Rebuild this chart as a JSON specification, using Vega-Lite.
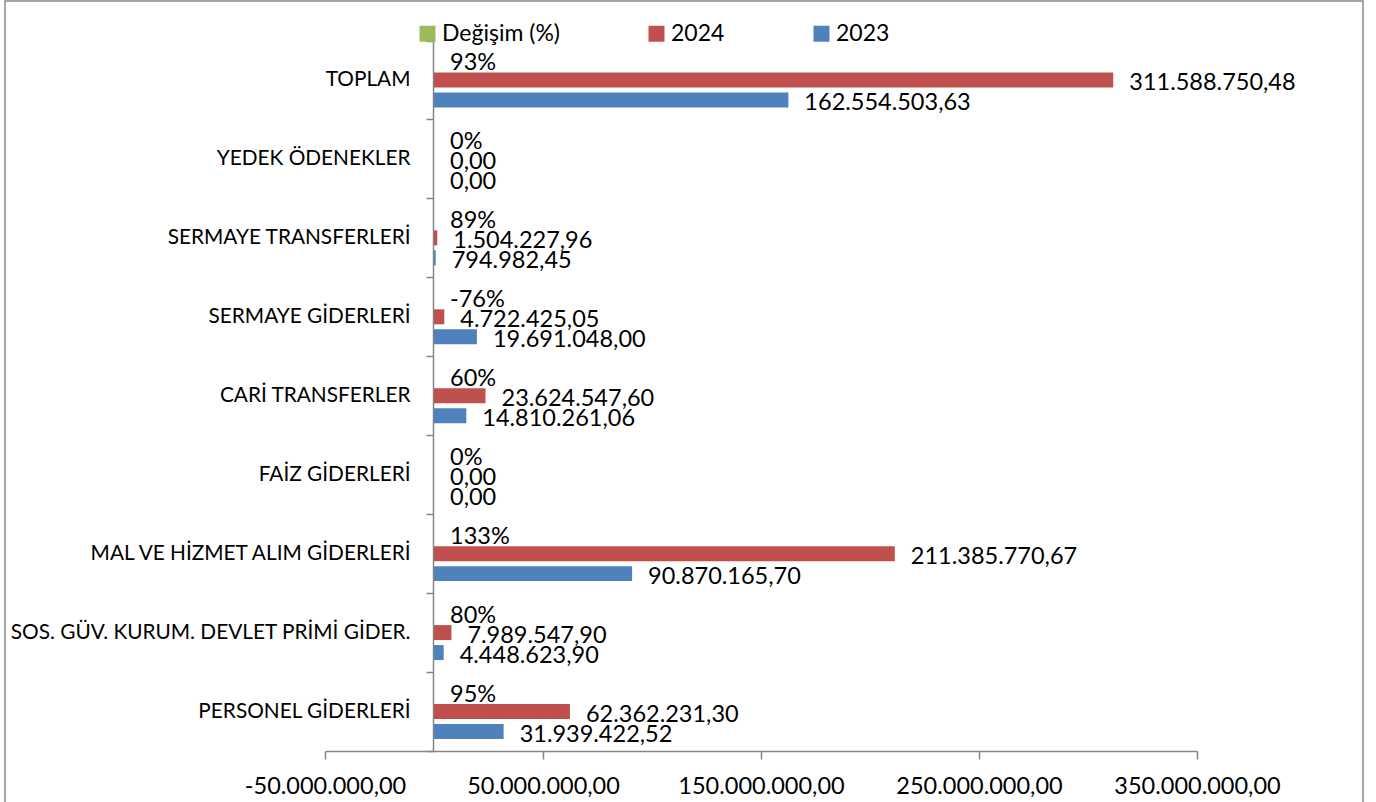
{
  "$schema": "https://vega.github.io/schema/vega-lite/v6.json",
  "width": 1358,
  "height": 820,
  "autosize": {"type": "none"},
  "padding": {"left": 5, "top": 1, "right": 13, "bottom": -19},
  "background": "white",
  "config": {
    "font": "Lato",
    "locale": {
      "number": {"decimal": ",", "thousands": ".", "grouping": [3], "currency": ["", ""], "minus": "-", "percent": "%"}
    },
    "view": {"stroke": "#898989", "strokeWidth": 1.5}
  },
  "data": {
    "values": [
      {"kalem": "TOPLAM", "seri": "Değişim (%)", "deger": 0.93},
      {"kalem": "TOPLAM", "seri": "2024", "deger": 311588750.48},
      {"kalem": "TOPLAM", "seri": "2023", "deger": 162554503.63},
      {"kalem": "YEDEK ÖDENEKLER", "seri": "Değişim (%)", "deger": 0},
      {"kalem": "YEDEK ÖDENEKLER", "seri": "2024", "deger": 0},
      {"kalem": "YEDEK ÖDENEKLER", "seri": "2023", "deger": 0},
      {"kalem": "SERMAYE TRANSFERLERİ", "seri": "Değişim (%)", "deger": 0.89},
      {"kalem": "SERMAYE TRANSFERLERİ", "seri": "2024", "deger": 1504227.96},
      {"kalem": "SERMAYE TRANSFERLERİ", "seri": "2023", "deger": 794982.45},
      {"kalem": "SERMAYE GİDERLERİ", "seri": "Değişim (%)", "deger": -0.76},
      {"kalem": "SERMAYE GİDERLERİ", "seri": "2024", "deger": 4722425.05},
      {"kalem": "SERMAYE GİDERLERİ", "seri": "2023", "deger": 19691048.00},
      {"kalem": "CARİ TRANSFERLER", "seri": "Değişim (%)", "deger": 0.60},
      {"kalem": "CARİ TRANSFERLER", "seri": "2024", "deger": 23624547.60},
      {"kalem": "CARİ TRANSFERLER", "seri": "2023", "deger": 14810261.06},
      {"kalem": "FAİZ  GİDERLERİ", "seri": "Değişim (%)", "deger": 0},
      {"kalem": "FAİZ  GİDERLERİ", "seri": "2024", "deger": 0},
      {"kalem": "FAİZ  GİDERLERİ", "seri": "2023", "deger": 0},
      {"kalem": "MAL VE HİZMET ALIM GİDERLERİ", "seri": "Değişim (%)", "deger": 1.33},
      {"kalem": "MAL VE HİZMET ALIM GİDERLERİ", "seri": "2024", "deger": 211385770.67},
      {"kalem": "MAL VE HİZMET ALIM GİDERLERİ", "seri": "2023", "deger": 90870165.70},
      {"kalem": "SOS. GÜV. KURUM. DEVLET PRİMİ GİDER.", "seri": "Değişim (%)", "deger": 0.80},
      {"kalem": "SOS. GÜV. KURUM. DEVLET PRİMİ GİDER.", "seri": "2024", "deger": 7989547.90},
      {"kalem": "SOS. GÜV. KURUM. DEVLET PRİMİ GİDER.", "seri": "2023", "deger": 4448623.90},
      {"kalem": "PERSONEL GİDERLERİ", "seri": "Değişim (%)", "deger": 0.95},
      {"kalem": "PERSONEL GİDERLERİ", "seri": "2024", "deger": 62362231.30},
      {"kalem": "PERSONEL GİDERLERİ", "seri": "2023", "deger": 31939422.52}
    ]
  },
  "encoding": {
    "y": {
      "field": "kalem",
      "type": "nominal",
      "sort": ["TOPLAM", "YEDEK ÖDENEKLER", "SERMAYE TRANSFERLERİ", "SERMAYE GİDERLERİ", "CARİ TRANSFERLER", "FAİZ  GİDERLERİ", "MAL VE HİZMET ALIM GİDERLERİ", "SOS. GÜV. KURUM. DEVLET PRİMİ GİDER.", "PERSONEL GİDERLERİ"],
      "scale": {"range": [39.5, 750], "paddingInner": 0, "paddingOuter": 0},
      "axis": {
        "title": null,
        "orient": "left",
        "offset": -428,
        "tickBand": "extent",
        "tickSize": 7,
        "tickColor": "#868686",
        "tickWidth": 1.5,
        "domainColor": "#868686",
        "domainWidth": 1.5,
        "labelFont": "Lato",
        "labelFontSize": 20.8,
        "labelColor": "#000000",
        "labelPadding": 16,
        "labelLimit": 600
      }
    },
    "yOffset": {
      "field": "seri",
      "type": "nominal",
      "sort": ["Değişim (%)", "2024", "2023"],
      "scale": {"paddingInner": 0.25, "paddingOuter": 0.6}
    },
    "x": {
      "field": "deger",
      "type": "quantitative",
      "scale": {"domain": [-50000000, 350000000], "range": [320, 1192], "nice": false, "zero": false},
      "axis": {
        "title": null,
        "orient": "bottom",
        "offset": -70,
        "values": [-50000000, 50000000, 150000000, 250000000, 350000000],
        "format": ",.2f",
        "grid": false,
        "tickSize": 8,
        "tickColor": "#868686",
        "tickWidth": 1.5,
        "domainColor": "#868686",
        "domainWidth": 1.5,
        "labelFont": "Lato",
        "labelFontSize": 23.5,
        "labelColor": "#000000",
        "labelPadding": 15,
        "labelOverlap": false,
        "labelFlush": false
      }
    }
  },
  "layer": [
    {
      "mark": {"type": "bar"},
      "encoding": {
        "color": {
          "field": "seri",
          "type": "nominal",
          "scale": {"domain": ["Değişim (%)", "2024", "2023"], "range": ["#9BBB59", "#C0504D", "#4F81BD"]},
          "legend": {
            "title": null,
            "orient": "none",
            "legendX": 411,
            "legendY": 21,
            "direction": "horizontal",
            "padding": 0,
            "symbolType": "square",
            "symbolSize": 256,
            "symbolStrokeWidth": 0,
            "symbolOpacity": 1,
            "labelFont": "Lato",
            "labelFontSize": 23,
            "labelColor": "#000000",
            "labelOffset": 3,
            "columnPadding": 85,
            "labelLimit": 300
          }
        }
      }
    },
    {
      "transform": [{"filter": "datum.seri !== 'Değişim (%)'"}],
      "mark": {"type": "text", "align": "left", "baseline": "middle", "dx": 16, "dy": 3, "fontSize": 23.5, "font": "Lato", "color": "#000000"},
      "encoding": {"text": {"field": "deger", "type": "quantitative", "format": ",.2f"}}
    },
    {
      "transform": [{"filter": "datum.seri === 'Değişim (%)'"}],
      "mark": {"type": "text", "align": "left", "baseline": "middle", "dx": 16, "dy": 3, "fontSize": 23.5, "font": "Lato", "color": "#000000"},
      "encoding": {"text": {"field": "deger", "type": "quantitative", "format": ".0%"}}
    }
  ]
}
